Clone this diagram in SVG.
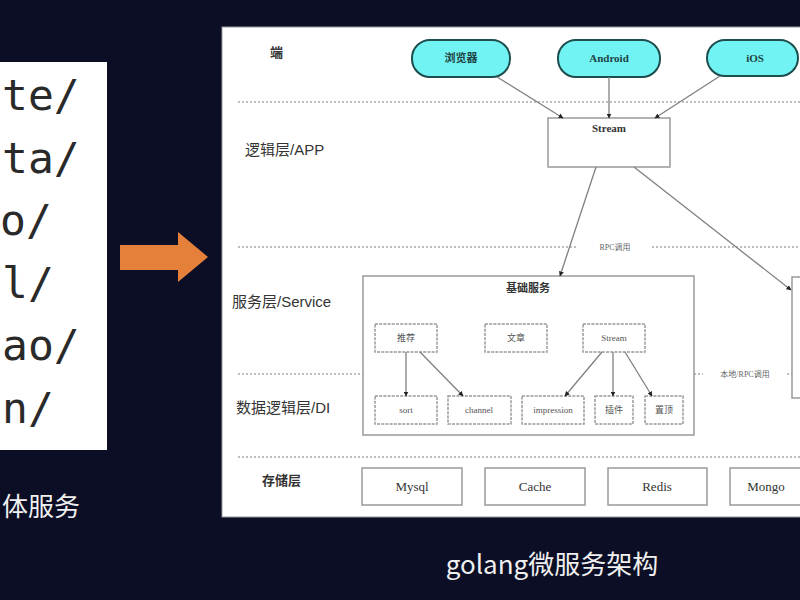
<svg xmlns="http://www.w3.org/2000/svg" width="800" height="600" viewBox="0 0 800 600">
<defs>
<marker id="ah" viewBox="0 0 10 10" refX="9" refY="5" markerWidth="5" markerHeight="5" markerUnits="userSpaceOnUse" orient="auto">
<path d="M0,0 L10,5 L0,10 z" fill="#222"/>
</marker>
<style>
.code{font-family:"DejaVu Sans Mono","Liberation Mono",monospace;font-size:43px;fill:#2a2a2a}
.cap{font-family:"Noto Sans CJK SC","Noto Sans",sans-serif;font-size:26px;fill:#f0f0f0}
.layer{font-family:"Liberation Sans","Noto Sans CJK SC",sans-serif;font-size:15px;fill:#333}
.layerb{font-family:"Liberation Serif","Noto Sans CJK SC",serif;font-size:13px;font-weight:bold;fill:#333}
.pill{fill:#72f3f3;stroke:#1e4d4d;stroke-width:2}
.pt{font-family:"Liberation Serif","Noto Sans CJK SC",serif;font-size:11px;font-weight:bold;fill:#1d4444;text-anchor:middle}
.box{fill:#fff;stroke:#9a9a9a;stroke-width:1.5}
.ibox{fill:#fff;stroke:#999;stroke-width:1.5;stroke-dasharray:3 1.2}
.bt{font-family:"Liberation Serif","Noto Sans CJK SC",serif;font-size:11px;font-weight:bold;fill:#333;text-anchor:middle}
.it{font-family:"Liberation Serif","Noto Sans CJK SC",serif;font-size:9px;fill:#555;text-anchor:middle}
.st{font-family:"Liberation Serif","Noto Sans CJK SC",serif;font-size:13px;fill:#333;text-anchor:middle}
.small{font-family:"Liberation Serif","Noto Sans CJK SC",serif;font-size:8px;fill:#666;text-anchor:middle}
.dot{stroke:#a8a8a8;stroke-width:1.5;stroke-dasharray:2 2;fill:none}
.edge{stroke:#808080;stroke-width:1.3;fill:none;marker-end:url(#ah)}
</style>
</defs>
<rect x="0" y="0" width="800" height="600" fill="#0b0e24"/>

<g id="monolith">
<rect x="0" y="62" width="107" height="388" fill="#ffffff"/>
<text class="code" x="2" y="110">te/</text>
<text class="code" x="2" y="173">ta/</text>
<text class="code" x="0" y="235">o/</text>
<text class="code" x="2" y="298">l/</text>
<text class="code" x="2" y="360">ao/</text>
<text class="code" x="2" y="423">n/</text>
<text class="cap" x="2" y="516">体服务</text>
</g>

<g id="big-arrow">
<polygon points="120,245 178,245 178,232 208,257 178,282 178,270 120,270" fill="#e5803b"/>
</g>

<g id="panel">
<rect x="222" y="27" width="590" height="490" fill="#ffffff" stroke="#999" stroke-width="1"/>
<line class="dot" x1="238" y1="102" x2="800" y2="102"/>
<path class="dot" d="M238,247 H577 M652,247 H800"/>
<path class="dot" d="M238,374 H703 M787,374 H800"/>
<line class="dot" x1="238" y1="457" x2="800" y2="457"/>
<text class="small" x="615" y="250">RPC调用</text>
<text class="small" x="745" y="377">本地/RPC调用</text>
</g>

<g id="layer-labels">
<text class="layerb" x="270" y="57">端</text>
<text class="layer" x="245" y="155">逻辑层/APP</text>
<text class="layer" x="232" y="307">服务层/Service</text>
<text class="layer" x="236" y="413">数据逻辑层/DI</text>
<text class="layerb" x="262" y="485">存储层</text>
</g>

<g id="browser"><rect class="pill" x="412" y="40" width="98" height="37" rx="18"/><text class="pt" x="461" y="62">浏览器</text></g>
<g id="android"><rect class="pill" x="558" y="40" width="102" height="37" rx="18"/><text class="pt" x="609" y="62">Android</text></g>
<g id="ios"><rect class="pill" x="707" y="40" width="91" height="36" rx="18"/><text class="pt" x="755" y="62">iOS</text></g>

<g id="stream-app"><rect class="box" x="548" y="118" width="122" height="49"/><text class="bt" x="609" y="132">Stream</text></g>

<g id="base-service"><rect class="box" x="363" y="276" width="331" height="159"/><text class="bt" x="528" y="292">基础服务</text></g>
<g id="right-service"><rect class="box" x="792" y="277" width="30" height="121"/></g>

<g id="recommend"><rect class="ibox" x="375" y="324" width="62" height="28"/><text class="it" x="406" y="341">推荐</text></g>
<g id="article"><rect class="ibox" x="485" y="324" width="62" height="28"/><text class="it" x="516" y="341">文章</text></g>
<g id="stream-svc"><rect class="ibox" x="583" y="324" width="62" height="28"/><text class="it" x="614" y="341">Stream</text></g>

<g id="sort"><rect class="ibox" x="375" y="396" width="62" height="28"/><text class="it" x="406" y="413">sort</text></g>
<g id="channel"><rect class="ibox" x="448" y="396" width="63" height="28"/><text class="it" x="479" y="413">channel</text></g>
<g id="impression"><rect class="ibox" x="522" y="396" width="62" height="28"/><text class="it" x="553" y="413">impression</text></g>
<g id="plugin"><rect class="ibox" x="595" y="396" width="38" height="28"/><text class="it" x="614" y="413">插件</text></g>
<g id="top"><rect class="ibox" x="645" y="396" width="38" height="28"/><text class="it" x="664" y="413">置顶</text></g>

<g id="mysql"><rect class="box" x="362" y="468" width="100" height="37"/><text class="st" x="412" y="491">Mysql</text></g>
<g id="cache"><rect class="box" x="485" y="468" width="100" height="37"/><text class="st" x="535" y="491">Cache</text></g>
<g id="redis"><rect class="box" x="608" y="468" width="99" height="37"/><text class="st" x="657" y="491">Redis</text></g>
<g id="mongo"><rect class="box" x="730" y="468" width="90" height="37"/><text class="st" x="766" y="491">Mongo</text></g>

<g id="connectors">
<line class="edge" x1="497" y1="77" x2="563" y2="118"/>
<line class="edge" x1="609" y1="77" x2="609" y2="118"/>
<line class="edge" x1="720" y1="76" x2="655" y2="118"/>
<line class="edge" x1="596" y1="167" x2="560" y2="276"/>
<line class="edge" x1="634" y1="167" x2="791" y2="290"/>
<line class="edge" x1="406" y1="352" x2="406" y2="396"/>
<line class="edge" x1="420" y1="352" x2="463" y2="396"/>
<line class="edge" x1="602" y1="352" x2="565" y2="396"/>
<line class="edge" x1="613" y1="352" x2="613" y2="396"/>
<line class="edge" x1="625" y1="352" x2="652" y2="396"/>
</g>

<text class="cap" x="552" y="574" text-anchor="middle">golang微服务架构</text>
</svg>
